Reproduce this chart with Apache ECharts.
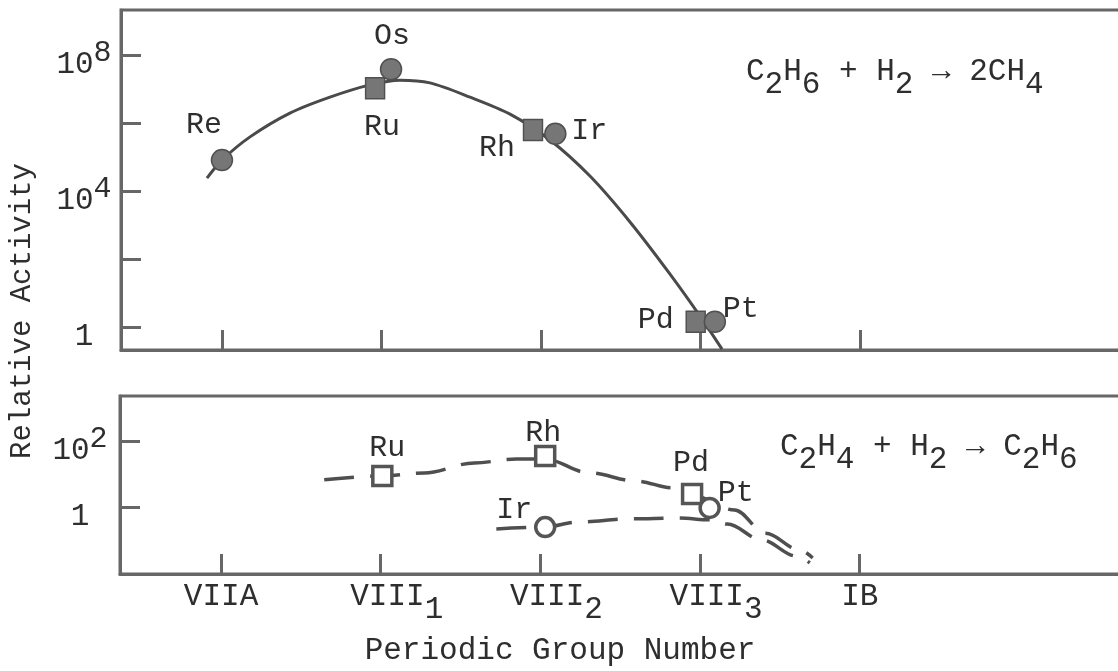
<!DOCTYPE html>
<html>
<head>
<meta charset="utf-8">
<script src="https://cdn.jsdelivr.net/npm/echarts@6/dist/echarts.min.js"></script>
<style>
  html, body { margin: 0; padding: 0; background: #fff; }
  #chart { width: 1118px; height: 671px; }
</style>
</head>
<body>
<div id="chart"></div>
<script>
// ---------------- data ----------------
// x positions: 0 = VIIA, 1 = VIII1, 2 = VIII2, 3 = VIII3, 4 = IB
const groupTicks = [0, 1, 2, 3, 4];
const groupNames = ['VIIA', 'VIII_1', 'VIII_2', 'VIII_3', 'IB'];

// Upper panel: C2H6 + H2 -> 2CH4 (hydrogenolysis)
const hydroMetals   = ['Re', 'Os', 'Ru', 'Rh', 'Ir', 'Pd', 'Pt'];
const hydroGroupPos = [0.00, 1.06, 0.96, 1.95, 2.09, 2.97, 3.09];
const hydroActivity = [8.1e4, 3.8e7, 1.05e7, 6.2e5, 4.8e5, 1.43, 1.43];

// Drawn curve through the hydrogenolysis points
const fitGroupPos = [-0.094, 0.0, 0.176, 0.426, 0.677, 0.928, 1.116, 1.304, 1.555, 1.806, 2.056, 2.307, 2.558, 2.809, 2.997, 3.135];
const fitActivity = [2.4e4, 8.1e4, 3.9e5, 1.95e6, 5.75e6, 1.32e7, 1.82e7, 1.51e7, 5.75e6, 1.82e6, 3.16e5, 2.75e4, 1.23e3, 36, 2.1, 0.224];

// Lower panel: C2H4 + H2 -> C2H6 (hydrogenation)
const hydrogMetals   = ['Ru', 'Rh', 'Ir', 'Pd', 'Pt'];
const hydrogGroupPos = [1.01, 2.03, 2.03, 2.95, 3.06];
const hydrogActivity = [8.9, 35.5, 0.26, 2.57, 0.98];

// Dashed guide lines of the lower panel
const dashAGroupPos = [0.646, 1.009, 1.273, 1.586, 1.85, 2.025, 2.307, 2.596, 2.828, 2.947, 3.216, 3.411, 3.624, 3.705];
const dashAActivity = [6.8, 8.9, 11.0, 21.9, 28.8, 28.8, 11.0, 6.3, 3.9, 2.4, 0.85, 0.17, 0.054, 0.031];
const dashBGroupPos = [1.724, 2.025, 2.238, 2.558, 2.871, 3.06, 3.172, 3.386, 3.605, 3.687];
const dashBActivity = [0.23, 0.26, 0.37, 0.46, 0.49, 0.43, 0.32, 0.107, 0.035, 0.022];

// y-axis ticks
const upperTickValues  = [1, 1e2, 1e4, 1e6, 1e8];
const upperLabelValues = [1, 1e4, 1e8];
const lowerTickValues  = [1, 1e2];
const lowerLabelValues = [1, 1e2];

// ---------------- styling / layout ----------------
const FONT = 'Liberation Mono';
const INK = '#2e2e2e';
const FRAME = '#676767';
const squareMetals = ['Ru', 'Rh', 'Pd'];

const upperLabelOffsets = { Re: [-18, -35], Os: [1, -33], Ru: [7, 39], Rh: [-36, 18], Ir: [34, -3], Pd: [-40, -2], Pt: [26, -13] };
const lowerLabelOffsets = { Ru: [5, -28], Rh: [-2, -23], Ir: [-31, -17], Pd: [-1, -31], Pt: [26, -15] };

const xMin = -0.633, xMax = 5.699;

function powLabel(v) {
  const e = Math.round(Math.log10(v));
  if (e === 0) return '{m|1}';
  return '{m|10}{p|' + e + '}';
}
const yRich = {
  m: { fontFamily: FONT, fontSize: 31, lineHeight: 34, color: INK, padding: [11, 0, 11, 0], verticalAlign: 'top' },
  p: { fontFamily: FONT, fontSize: 30, lineHeight: 34, color: INK, verticalAlign: 'top' }
};

function groupLabel(v) {
  const n = groupNames[Math.round(v)];
  if (!n) return '';
  const parts = n.split('_');
  if (parts.length === 1) return '{a|' + parts[0] + '}';
  return '{v|' + parts[0] + '}{s|' + parts[1] + '}';
}
const xRich = {
  a: { fontFamily: FONT, fontSize: 31, lineHeight: 34, color: INK, verticalAlign: 'top' },
  v: { fontFamily: FONT, fontSize: 31, lineHeight: 34, color: INK, verticalAlign: 'top', padding: [0, 0, 0, 32] },
  s: { fontFamily: FONT, fontSize: 31, lineHeight: 34, color: INK, verticalAlign: 'top', padding: [13, 0, 0, 0] }
};

const formulaRich = {
  m: { fontFamily: FONT, fontSize: 31, lineHeight: 34, fill: INK, verticalAlign: 'top' },
  s: { fontFamily: FONT, fontSize: 31, lineHeight: 34, fill: INK, verticalAlign: 'top', padding: [13, 0, 0, 0] }
};

function xAxisCfg(gridIndex, showLabels) {
  return {
    type: 'value', gridIndex, min: xMin, max: xMax,
    axisLine: { show: true, onZero: false, lineStyle: { color: FRAME, width: 3 } },
    axisTick: { show: true, inside: true, length: 20, customValues: groupTicks, lineStyle: { color: FRAME, width: 3 } },
    axisLabel: showLabels ? { show: true, customValues: groupTicks, formatter: groupLabel, margin: 7, rich: xRich } : { show: false },
    splitLine: { show: false }
  };
}
function yAxisCfg(gridIndex, min, max, ticks, labels, margin) {
  return {
    type: 'log', logBase: 10, gridIndex, min, max,
    axisLine: { show: true, onZero: false, lineStyle: { color: FRAME, width: 3 } },
    axisTick: { show: true, inside: true, length: 20, customValues: ticks, lineStyle: { color: FRAME, width: 3 } },
    axisLabel: { show: true, customValues: labels, formatter: powLabel, margin, align: 'center', verticalAlign: 'middle', rich: yRich },
    splitLine: { show: false },
    minorTick: { show: false }
  };
}

function zip(xs, ys) { return xs.map((x, i) => [x, ys[i]]); }

function markerData(names, xs, ys, offsets, filled) {
  return names.map((n, i) => ({
    value: [xs[i], ys[i]],
    name: n,
    symbol: squareMetals.includes(n) ? 'rect' : 'circle',
    symbolSize: squareMetals.includes(n) ? (filled ? [19, 21] : 19) : (filled ? 21 : 19),
    label: { show: true, position: 'inside', offset: offsets[n], formatter: n }
  }));
}

const chart = echarts.init(document.getElementById('chart'), null, { renderer: 'canvas' });

chart.setOption({
  animation: false,
  backgroundColor: '#ffffff',
  grid: [
    { left: 121, top: 10, width: 1010, height: 340, show: true, borderColor: FRAME, borderWidth: 3, backgroundColor: 'transparent', outerBoundsMode: 'none', containLabel: false },
    { left: 120, top: 396, width: 1011, height: 178, show: true, borderColor: FRAME, borderWidth: 3, backgroundColor: 'transparent', outerBoundsMode: 'none', containLabel: false }
  ],
  xAxis: [xAxisCfg(0, false), xAxisCfg(1, true)],
  yAxis: [
    yAxisCfg(0, 0.211, 2.1e9, upperTickValues, upperLabelValues, 37),
    yAxisCfg(1, 0.0102, 2230, lowerTickValues, lowerLabelValues, 40)
  ],
  series: [
    {
      type: 'line', xAxisIndex: 0, yAxisIndex: 0,
      data: zip(fitGroupPos, fitActivity),
      smooth: 0.3, showSymbol: false, silent: true,
      lineStyle: { color: '#4a4a4a', width: 3 }, z: 2
    },
    {
      type: 'scatter', xAxisIndex: 0, yAxisIndex: 0,
      data: markerData(hydroMetals, hydroGroupPos, hydroActivity, upperLabelOffsets, true),
      itemStyle: { color: '#767676', borderColor: '#505050', borderWidth: 1.5, opacity: 1 },
      label: { fontFamily: FONT, fontSize: 30, color: INK },
      z: 3
    },
    {
      type: 'line', xAxisIndex: 1, yAxisIndex: 1,
      data: zip(dashAGroupPos, dashAActivity),
      smooth: 0.35, smoothMonotone: 'x', showSymbol: false, silent: true,
      lineStyle: { color: '#4f4f4f', width: 3.5, type: [30, 16] }, z: 2
    },
    {
      type: 'line', xAxisIndex: 1, yAxisIndex: 1,
      data: zip(dashBGroupPos, dashBActivity),
      smooth: 0.35, smoothMonotone: 'x', showSymbol: false, silent: true,
      lineStyle: { color: '#4f4f4f', width: 3.5, type: [30, 16] }, z: 2
    },
    {
      type: 'scatter', xAxisIndex: 1, yAxisIndex: 1,
      data: markerData(hydrogMetals, hydrogGroupPos, hydrogActivity, lowerLabelOffsets, false),
      itemStyle: { color: '#ffffff', borderColor: '#555555', borderWidth: 3.5, opacity: 1 },
      label: { fontFamily: FONT, fontSize: 30, color: INK },
      z: 3
    }
  ],
  graphic: [
    {
      type: 'text', x: 22, y: 311, rotation: Math.PI / 2,
      style: { text: 'Relative Activity', fontFamily: FONT, fontSize: 29, fill: INK, align: 'center', verticalAlign: 'middle' }
    },
    {
      type: 'text', x: 560, y: 651,
      style: { text: 'Periodic Group Number', fontFamily: FONT, fontSize: 31, fill: INK, align: 'center', verticalAlign: 'middle' }
    },
    {
      type: 'text', x: 746, y: 56,
      style: { text: '{m|C}{s|2}{m|H}{s|6}{m| + H}{s|2}{m| → 2CH}{s|4}', rich: formulaRich, align: 'left', verticalAlign: 'top' }
    },
    {
      type: 'text', x: 780, y: 431,
      style: { text: '{m|C}{s|2}{m|H}{s|4}{m| + H}{s|2}{m| → C}{s|2}{m|H}{s|6}', rich: formulaRich, align: 'left', verticalAlign: 'top' }
    }
  ]
});
</script>
</body>
</html>
